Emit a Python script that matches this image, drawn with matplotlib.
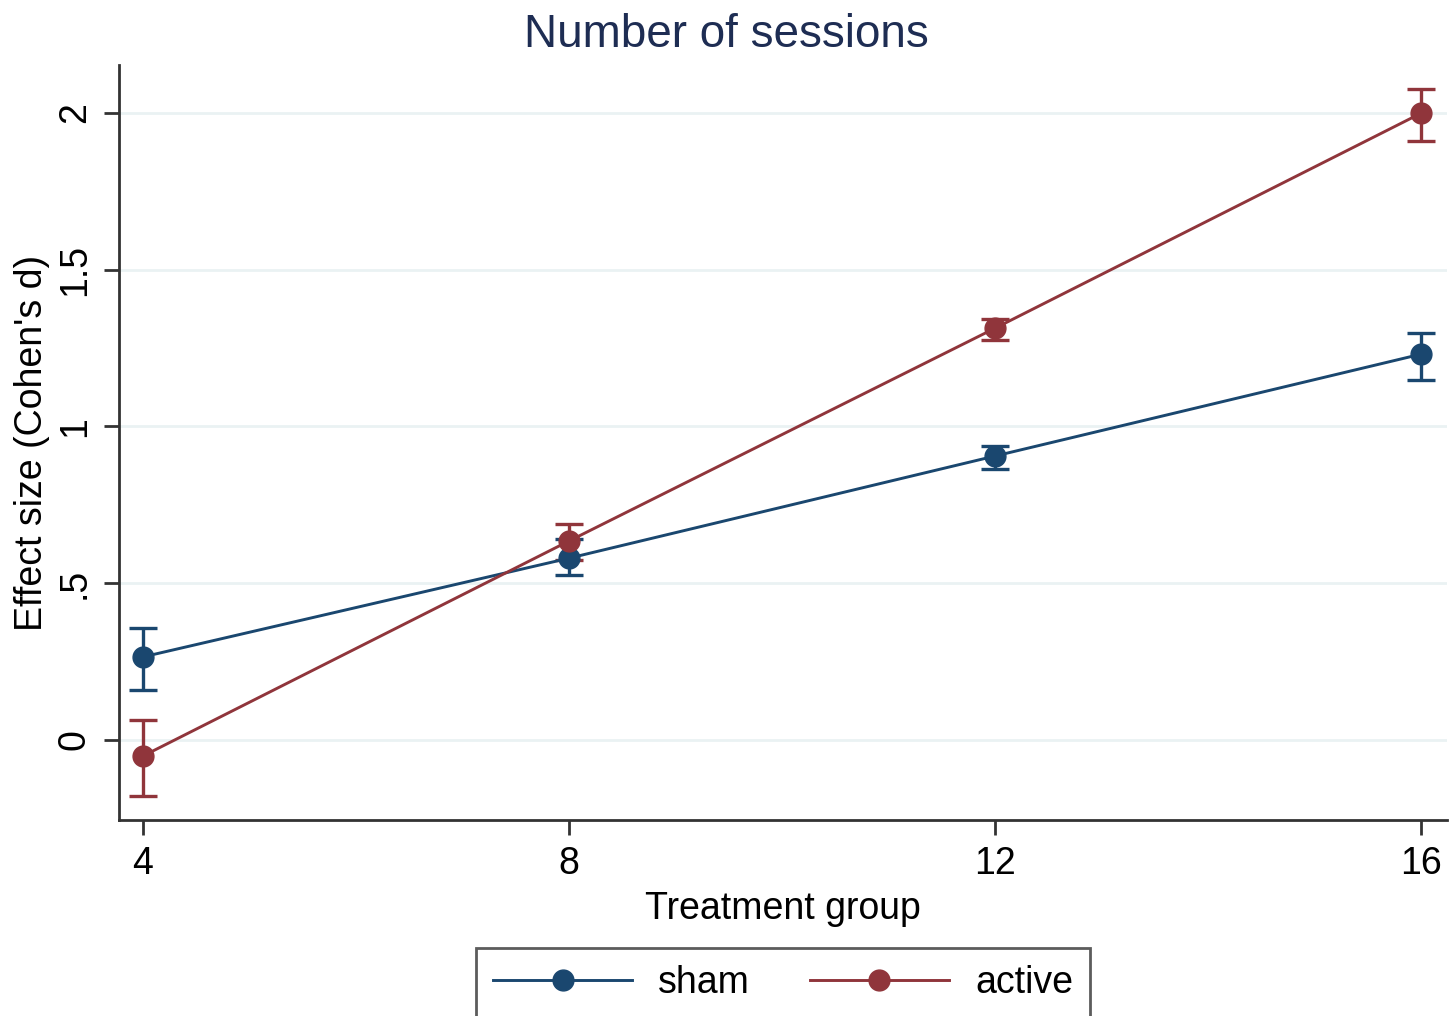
import numpy as np
import matplotlib.pyplot as plt

plt.rcParams['font.family'] = ['Liberation Sans', 'DejaVu Sans']

groups = [4, 8, 12, 16]

sham = [0.265, 0.58, 0.906, 1.231]
sham_lo = [0.160, 0.526, 0.864, 1.148]
sham_hi = [0.356, 0.640, 0.938, 1.298]

active = [-0.051, 0.635, 1.314, 2.0]
active_lo = [-0.179, 0.574, 1.276, 1.911]
active_hi = [0.064, 0.689, 1.343, 2.077]

navy = '#1a476f'
maroon = '#90353b'

fig = plt.figure(figsize=(14.52, 10.16), dpi=100)
ax = fig.add_axes([0.082, 0.193, 0.9146, 0.743])

for y, lo, hi, c, lab in [(sham, sham_lo, sham_hi, navy, 'sham'),
                          (active, active_lo, active_hi, maroon, 'active')]:
    y = np.array(y)
    err = [y - np.array(lo), np.array(hi) - y]
    ax.errorbar(groups, y, yerr=err, fmt='none', ecolor=c, elinewidth=2.4,
                capsize=10, capthick=2.4, zorder=3)
    ax.plot(groups, y, '-o', color=c, lw=2.1, ms=15, label=lab, zorder=4)

ax.set_xlim(3.775, 16.24)
ax.set_ylim(-0.255, 2.153)
ax.set_xticks(groups)
ax.set_yticks([0, 0.5, 1, 1.5, 2])
ax.set_yticklabels(['0', '.5', '1', '1.5', '2'], rotation=90, va='center')
ax.grid(axis='y', color='#eaf2f3', lw=2)
ax.set_axisbelow(True)
ax.tick_params(axis='both', labelsize=27, length=11, width=2, color='#333333', pad=8)
for s in ['top', 'right']:
    ax.spines[s].set_visible(False)
for s in ['left', 'bottom']:
    ax.spines[s].set_linewidth(2)
    ax.spines[s].set_color('#333333')

ax.set_xlabel('Treatment group', fontsize=27, labelpad=6)
ax.set_ylabel("Effect size (Cohen's d)", fontsize=27, labelpad=5)
fig.text(0.5, 0.987, 'Number of sessions', fontsize=33, color='#1e2d53',
         ha='center', va='top')

leg = ax.legend(loc='upper center', bbox_to_anchor=(0.5, -0.145), ncol=2,
                fontsize=27, frameon=True, fancybox=False, edgecolor='#333333',
                handlelength=3.7, handletextpad=0.7, columnspacing=1.6,
                borderpad=0.45)
leg.get_frame().set_linewidth(2)

fig.savefig('out.png', dpi=100)
